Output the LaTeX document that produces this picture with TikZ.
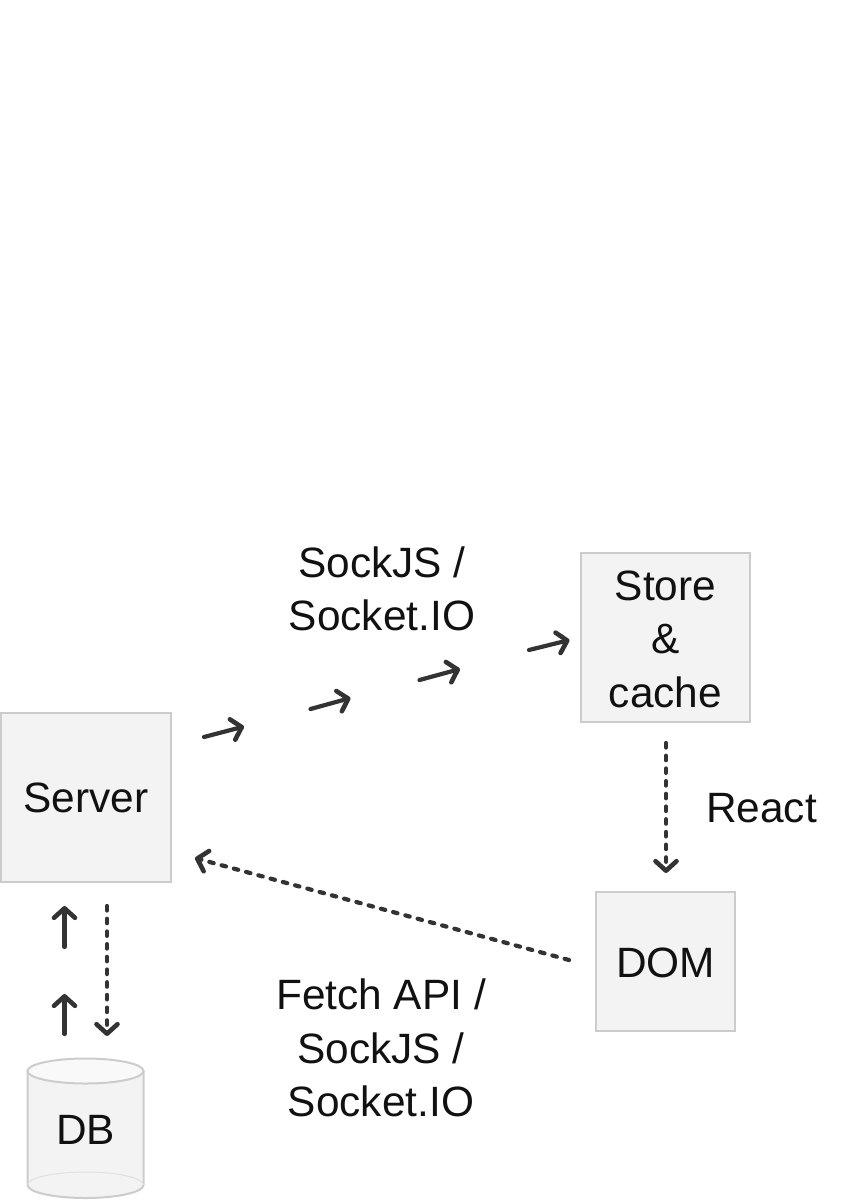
\documentclass[tikz,border=0pt]{standalone}
\usepackage{fontspec}
\setmainfont{Liberation Sans}
\usetikzlibrary{arrows.meta}
\definecolor{boxfill}{HTML}{F3F3F3}
\definecolor{boxline}{HTML}{CCCCCC}
\definecolor{inktext}{HTML}{111111}
\definecolor{arrowink}{HTML}{333333}
\newcommand{\dropby}[2]{\raisebox{-#1}[\height][\depth]{#2}}
\tikzset{
  labeltext/.style={font=\fontsize{42.4pt}{53.5pt}\selectfont,text=inktext,align=center,inner sep=0pt,outer sep=0pt},
  boxnode/.style={labeltext,draw=boxline,fill=boxfill,line width=2pt,minimum width=#1,minimum height=#1},
  flow/.style={draw=arrowink,line width=4.2pt,line cap=round,-{Straight Barb[length=9.5pt,width=21pt,round,line width=4.6pt]}},
  dotflow/.style={flow,dash pattern=on 4.5pt off 8.2pt},
}
\begin{document}
\begin{tikzpicture}[x=1pt,y=-1pt]
\useasboundingbox (0,0) rectangle (848,1200);
\node[boxnode=169.5pt] (server) at (86,797.5) {\dropby{0.8pt}{Server}};
\node[boxnode=169.5pt] (store) at (665.5,637.5) {\dropby{1.5pt}{Store}\\\dropby{1.5pt}{\&}\\\dropby{1.5pt}{cache}};
\node[boxnode=139.5pt] (dom) at (665.5,961.5) {\dropby{1pt}{DOM}};
% database cylinder
\path[fill=boxfill,draw=boxline,line width=2pt] (27.5,1071) -- (27.5,1185) arc[start angle=180,end angle=360,x radius=58pt,y radius=13pt] -- (143.5,1071) -- cycle;
\draw[boxline!60,line width=1pt] (27.5,1185) arc[start angle=180,end angle=0,x radius=58pt,y radius=13pt];
\draw[boxline,fill=boxfill!50!white,line width=2pt] (85.5,1071) ellipse[x radius=58pt,y radius=12.5pt];
\node[labeltext] (db) at (85.5,1129.5) {DB};
% labels
\node[labeltext] (sock) at (382,589) {SockJS /\\Socket.IO};
\node[labeltext] (fetch) at (381,1048) {Fetch API /\\SockJS /\\Socket.IO};
\node[labeltext] (react) at (761.5,808) {React};
% connector ends
\coordinate (a1s) at (204,737); \coordinate (a1e) at (244,726.5);
\coordinate (a2s) at (310.5,709); \coordinate (a2e) at (350.5,698);
\coordinate (a3s) at (419.5,680); \coordinate (a3e) at (460,669);
\coordinate (a4s) at (529,650); \coordinate (a4e) at (569.5,640);
\coordinate (u1s) at (64.5,947); \coordinate (u1e) at (64.5,906);
\coordinate (u2s) at (64.5,1034); \coordinate (u2e) at (64.5,994);
\coordinate (d1s) at (107,906); \coordinate (d1e) at (107,1036);
\coordinate (d2s) at (666,743); \coordinate (d2e) at (666,873);
\coordinate (d3s) at (569,960); \coordinate (d3e) at (195,858);
\draw[flow] (a1s) -- (a1e);
\draw[flow] (a2s) -- (a2e);
\draw[flow] (a3s) -- (a3e);
\draw[flow] (a4s) -- (a4e);
\draw[flow] (u1s) -- (u1e);
\draw[flow] (u2s) -- (u2e);
\draw[dotflow] (d1s) -- (d1e);
\draw[dotflow] (d2s) -- (d2e);
\draw[dotflow] (d3s) -- (d3e);
\end{tikzpicture}
\end{document}
